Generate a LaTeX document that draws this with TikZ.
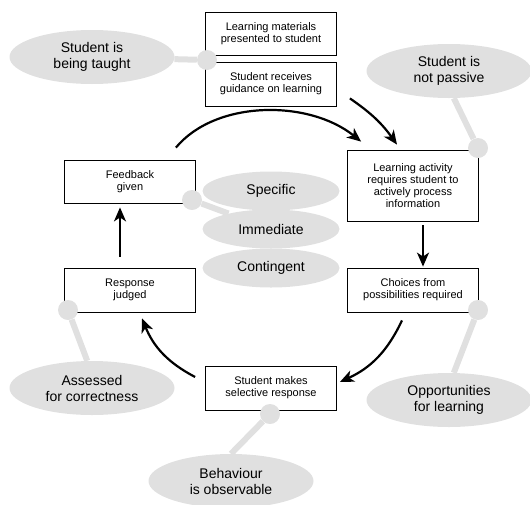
\documentclass[tikz,border=0pt]{standalone}
\usepackage{fontspec}
\setmainfont{Liberation Sans}
\usetikzlibrary{calc}
\usetikzlibrary{shapes.geometric}
\usetikzlibrary{arrows.meta}
\usetikzlibrary{backgrounds}
\definecolor{notegray}{RGB}{224,224,224}
\tikzset{
  action/.style={rectangle, draw, line width=0.8pt, fill=white, minimum width=131pt, minimum height=44pt, align=center, inner sep=1pt, font=\fontsize{11}{12}\selectfont},
  note/.style={ellipse, fill=notegray, minimum width=165pt, minimum height=54pt, inner sep=0pt, align=center, font=\fontsize{14}{16}\selectfont},
  quality/.style={note, minimum width=137pt, minimum height=39pt},
  pin/.style={circle, fill=notegray, minimum size=20pt, inner sep=0pt},
  link/.style={draw=notegray, line width=6pt},
  arrow/.style={draw, -{Stealth[length=14pt, width=12pt, inset=4pt]}, line width=2.2pt}
  }

\begin{document}
\begin{tikzpicture}[x=1pt, y=-1pt]
	\useasboundingbox (0,0) rectangle (530,504);

	% Notes
	\node[note] (taught) at (92,57) {Student is\\being taught};
	\node[note] (passive) at (449,71) {Student is\\not passive};
	\node[note] (chances) at (449,400) {Opportunities\\for learning};
	\node[note] (observe) at (231,481) {Behaviour\\is observable};
	\node[note] (correct) at (92,388) {Assessed\\for correctness};
	\node[quality] (specific) at (271,191) {Specific};
	\node[quality] (contingent) at (271,268) {Contingent};
	\node[quality] (immediate) at (271,229) {Immediate};

	% Steps
	\node[action, minimum height=43pt] (materials) at (271,33.5) {Learning materials\\presented to student};
	\node[action] (guidance) at (271,84) {Student receives\\guidance on learning};
	\node[action, minimum height=71pt] (activity) at (413,185.5) {Learning activity\\requires student to\\actively process\\information};
	\node[action] (choices) at (413,290) {Choices from\\possibilities required};
	\node[action] (response) at (271,388) {Student makes\\selective response};
	\node[action] (judged) at (130,290) {Response\\judged};
	\node[action, minimum height=43pt] (feedback) at (130,181.5) {Feedback\\given};

	% Pins
	\node[pin] (pin1) at (207,60) {};
	\node[pin] (pin2) at (478,148) {};
	\node[pin] (pin3) at (478,310) {};
	\node[pin] (pin4) at (270,414) {};
	\node[pin] (pin5) at (68,310) {};
	\node[pin] (pin6) at (192,200) {};

	\begin{pgfonlayer}{background}
		\draw[link] (taught) -- (pin1);
		\draw[link] (passive.-80) -- (pin2);
		\draw[link] (chances.80) -- (pin3);
		\draw[link] (observe.north) -- (pin4);
		\draw[link] (correct.100) -- (pin5);
		\draw[link] (immediate.160) -- (pin6);
	\end{pgfonlayer}

	% Arrow
	\draw[arrow] ($(feedback.north east)+(-20,-12)$) .. controls +(40,-48) and +(-52,-42) .. ($(activity.north west)+(14,-8)$);
	\draw[arrow] ($(guidance.south east)+(13,-8)$) to[bend left=10] ($(activity.north)+(-16,-5)$);
	\draw[arrow] ($(activity.south)+(10,4)$) -- ($(choices.north)+(10,-1)$);
	\draw[arrow] ($(choices.south)+(-11,8)$) to[bend left=20] ($(response.east)+(3,-6)$);
	\draw[arrow] ($(response.west)+(-10,-11)$) to[bend left=20] ($(judged.south)+(12,6)$);
	\draw[arrow] ($(judged.north)+(-10,-11)$) -- ($(feedback.south)+(-10,4)$);
\end{tikzpicture}
\end{document}
